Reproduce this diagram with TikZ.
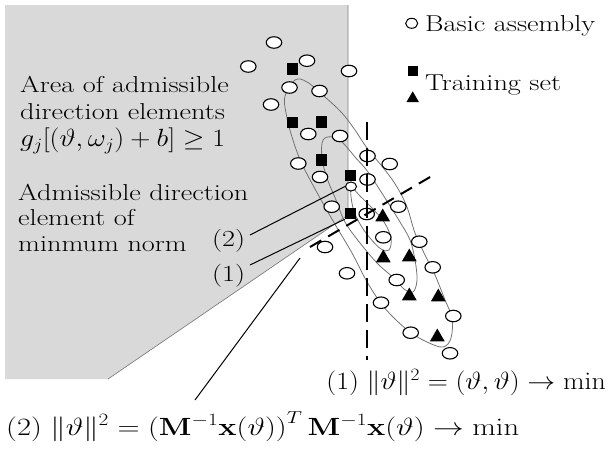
\documentclass[tikz,border=0pt]{standalone}
\usetikzlibrary{shapes.geometric}
\newcommand\sx[1]{\scalebox{1.23}[1]{#1}}
\newcommand\mx[1]{\scalebox{1.12}[1]{#1}}
\begin{document}
\begin{tikzpicture}[x=1pt,y=-1pt,
  pt/.style={ellipse,draw,fill=white,line width=1.1pt,minimum width=15.5pt,minimum height=11.5pt,inner sep=0pt},
  spt/.style={ellipse,draw,fill=white,line width=1pt,minimum width=11pt,minimum height=9pt,inner sep=0pt},
  sq/.style={rectangle,fill=black,minimum size=11.5pt,inner sep=0pt},
  tri/.style={regular polygon,regular polygon sides=3,fill=black,minimum size=17pt,inner sep=0pt},
  lbl/.style={inner sep=0pt,font=\fontsize{23}{27}\selectfont},
  curve/.style={draw=black!55,line width=0.8pt},
  bound/.style={draw=black!50,line width=0.7pt},
  lead/.style={draw=black,line width=1pt},
  vdash/.style={draw=black,line width=2.3pt,dash pattern=on 18pt off 8pt},
  idash/.style={draw=black,line width=2pt,dash pattern=on 13pt off 8pt}]
\useasboundingbox (0,0) rectangle (608,450);
% shaded admissible area
\fill[black!15] (5,5) -- (348,5) -- (348,215) -- (108,379) -- (5,379) -- cycle;
\draw[bound] (348,5) -- (348,215) -- (108,379);
% nested loops
\draw[curve] plot[smooth cycle,tension=0.6] coordinates {(295,80) (307,82) (325,97) (342,113) (355,130) (367,148) (385,170) (397,187) (407,207) (415,233) (425,255) (435,275) (445,300) (452,318) (451,338) (443,347) (427,342) (410,332) (393,317) (380,302) (366,280) (352,253) (336,226) (320,198) (302,164) (292,137) (286,113) (285,96)};
\draw[curve] plot[smooth cycle,tension=0.6] coordinates {(323,140) (333,137) (343,143) (355,157) (368,172) (385,198) (400,222) (410,240) (415,260) (417,280) (413,292) (404,289) (395,279) (378,264) (360,243) (345,222) (336,200) (327,178) (322,158)};
\draw[curve] plot[smooth cycle,tension=0.6] coordinates {(351,188) (360,196) (372,208) (384,222) (391,238) (389,250) (381,249) (370,238) (360,224) (353,208)};
% basic assembly points
\foreach \x/\y [count=\i] in {274/42.5, 248.3/66.5, 307/60.7, 349/71, 289.5/87.5, 319.5/91, 271/104.5, 308.3/134, 340/136, 298.3/163.5, 320/177, 367.5/156, 389.7/164, 367.5/179.5, 331.7/206.7, 398.3/206.7, 366.7/214, 383.3/237.3, 325/247, 419.3/241.7, 432.7/267.3, 347/273.3, 396.7/280, 381/302.7, 453.3/316, 410.7/332.7, 450/353.3}
  \node[pt] (c\i) at (\x,\y) {};
\node[spt] (sc) at (351,186.5) {};
% training set: squares and triangles
\foreach \x/\y [count=\i] in {292.7/69, 292.7/122.5, 321.7/122, 321.7/160, 350.7/175.5, 350.7/213.3}
  \node[sq] (s\i) at (\x,\y) {};
\foreach \x/\y [count=\i] in {382.7/215, 383.3/256, 409.3/255, 409.3/294, 438.3/295, 437.3/335}
  \node[tri] (t\i) at (\x,\y+2) {};
% dashed lines
\coordinate (v1) at (367,122);
\coordinate (v2) at (367,360);
\draw[vdash] (v1) -- (v2);
\coordinate (d1) at (310,247);
\coordinate (d2) at (437,173);
\draw[idash] (d1) -- (d2);
% legend
\node[pt,line width=1pt,minimum width=12pt,minimum height=10pt] (lc) at (411.7,23.3) {};
\node[lbl,anchor=base west] (lt1) at (425,31.5) {\sx{Basic assembly}};
\node[sq,minimum size=10pt] (ls) at (413.3,70.5) {};
\node[tri,minimum size=14.5pt] (lt) at (412.7,98.5) {};
\node[lbl,anchor=base west] (lt2) at (425,90.5) {\sx{Training set}};
% area text
\node[lbl,anchor=base west] (a1) at (20,92.5) {\sx{Area of admissible}};
\node[lbl,anchor=base west] (a2) at (20,119) {\sx{direction elements}};
\node[lbl,anchor=base west] (a3) at (20,146.5) {\mx{$g_j\bigl[(\vartheta,\omega_j)+b\bigr]\ge 1$}};
\node[lbl,anchor=base west] (b1) at (18,200) {\sx{Admissible direction}};
\node[lbl,anchor=base west] (b2) at (18,225.5) {\sx{element of}};
\node[lbl,anchor=base west] (b3) at (18,251.5) {\sx{minmum norm}};
\node[lbl,anchor=base west] (n2) at (212,246) {\sx{(2)}};
\node[lbl,anchor=base west] (n1) at (212,281) {\sx{(1)}};
% leader lines
\coordinate (e2) at (250,235);
\draw[lead] (e2) -- (sc.west);
\coordinate (e1) at (250,265);
\draw[lead] (e1) -- (s6.south west);
\coordinate (f1) at (195,400);
\coordinate (f2) at (300,258);
\draw[lead] (f1) -- (f2);
% bottom formulas
\node[lbl,anchor=base east] (m1) at (606,389.5) {\mx{$(1)\ \|\vartheta\|^2=(\vartheta,\vartheta)\to\min$}};
\node[lbl,anchor=base west] (m2) at (6,435) {\scalebox{1.23}[1]{$(2)\ \|\vartheta\|^2=\bigl(\mathbf{M}^{-1}\mathbf{x}(\vartheta)\bigr)^T\,\mathbf{M}^{-1}\mathbf{x}(\vartheta)\to\min$}};
\end{tikzpicture}
\end{document}
